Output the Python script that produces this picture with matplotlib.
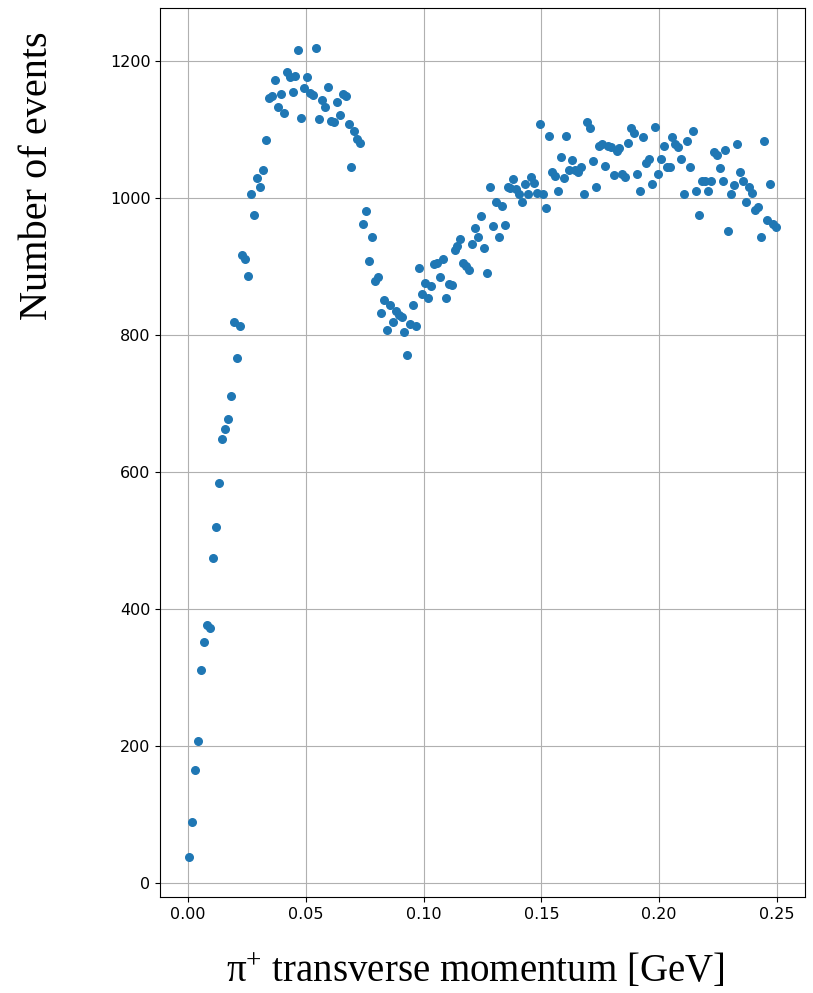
import numpy as np
import matplotlib.pyplot as plt

plt.rcParams['mathtext.fontset'] = 'custom'
plt.rcParams['mathtext.rm'] = 'Liberation Serif'
plt.rcParams['mathtext.it'] = 'Liberation Serif'

# histogram of pi+ transverse momentum, 200 bins from 0 to 0.25 GeV
bin_edges = np.linspace(0.0, 0.25, 201)
counts = [
    38, 88, 165, 207, 311, 351, 376, 371, 474, 519,
    584, 648, 662, 677, 710, 819, 766, 812, 917, 911,
    886, 1006, 974, 1028, 1015, 1040, 1084, 1145, 1149, 1172,
    1133, 1151, 1124, 1184, 1176, 1155, 1178, 1216, 1117, 1160,
    1176, 1153, 1150, 1218, 1115, 1142, 1132, 1161, 1112, 1110,
    1140, 1120, 1151, 1148, 1108, 1045, 1098, 1085, 1080, 961,
    980, 908, 943, 878, 884, 831, 850, 807, 844, 819,
    835, 829, 826, 804, 770, 816, 844, 812, 898, 859,
    876, 854, 871, 903, 905, 884, 911, 854, 874, 873,
    923, 930, 940, 905, 900, 894, 933, 955, 943, 973,
    926, 890, 1015, 958, 994, 943, 988, 960, 1015, 1014,
    1027, 1012, 1006, 993, 1020, 1006, 1030, 1021, 1007, 1108,
    1005, 985, 1090, 1037, 1032, 1010, 1060, 1029, 1090, 1040,
    1055, 1040, 1038, 1045, 1005, 1110, 1101, 1053, 1015, 1076,
    1079, 1046, 1076, 1074, 1033, 1068, 1072, 1035, 1030, 1080,
    1101, 1094, 1035, 1010, 1088, 1050, 1057, 1020, 1103, 1035,
    1057, 1076, 1045, 1045, 1088, 1078, 1074, 1057, 1005, 1083,
    1045, 1098, 1010, 975, 1025, 1025, 1010, 1025, 1067, 1062,
    1043, 1025, 1070, 952, 1005, 1018, 1078, 1038, 1025, 993,
    1015, 1007, 982, 986, 942, 1083, 967, 1020, 962, 957,
]
bin_centers = 0.5 * (bin_edges[:-1] + bin_edges[1:])

fig = plt.figure(figsize=(8.13, 9.93), dpi=100)
ax = fig.add_axes([0.197, 0.0967, 0.793, 0.8953])
ax.scatter(bin_centers, counts, s=30, color='C0', zorder=3)
ax.grid(True)
ax.tick_params(labelsize=11.5)

ax.set_xlabel('π$^{+}$ transverse momentum [GeV]', fontsize=28,
              family='Liberation Serif', va='center')
ax.xaxis.set_label_coords(0.488, -0.084)
ax.set_ylabel('Number of events', fontsize=29, family='Liberation Serif',
              va='center')
ax.yaxis.set_label_coords(-0.19, 0.811)

fig.savefig('out.png', dpi=100)
